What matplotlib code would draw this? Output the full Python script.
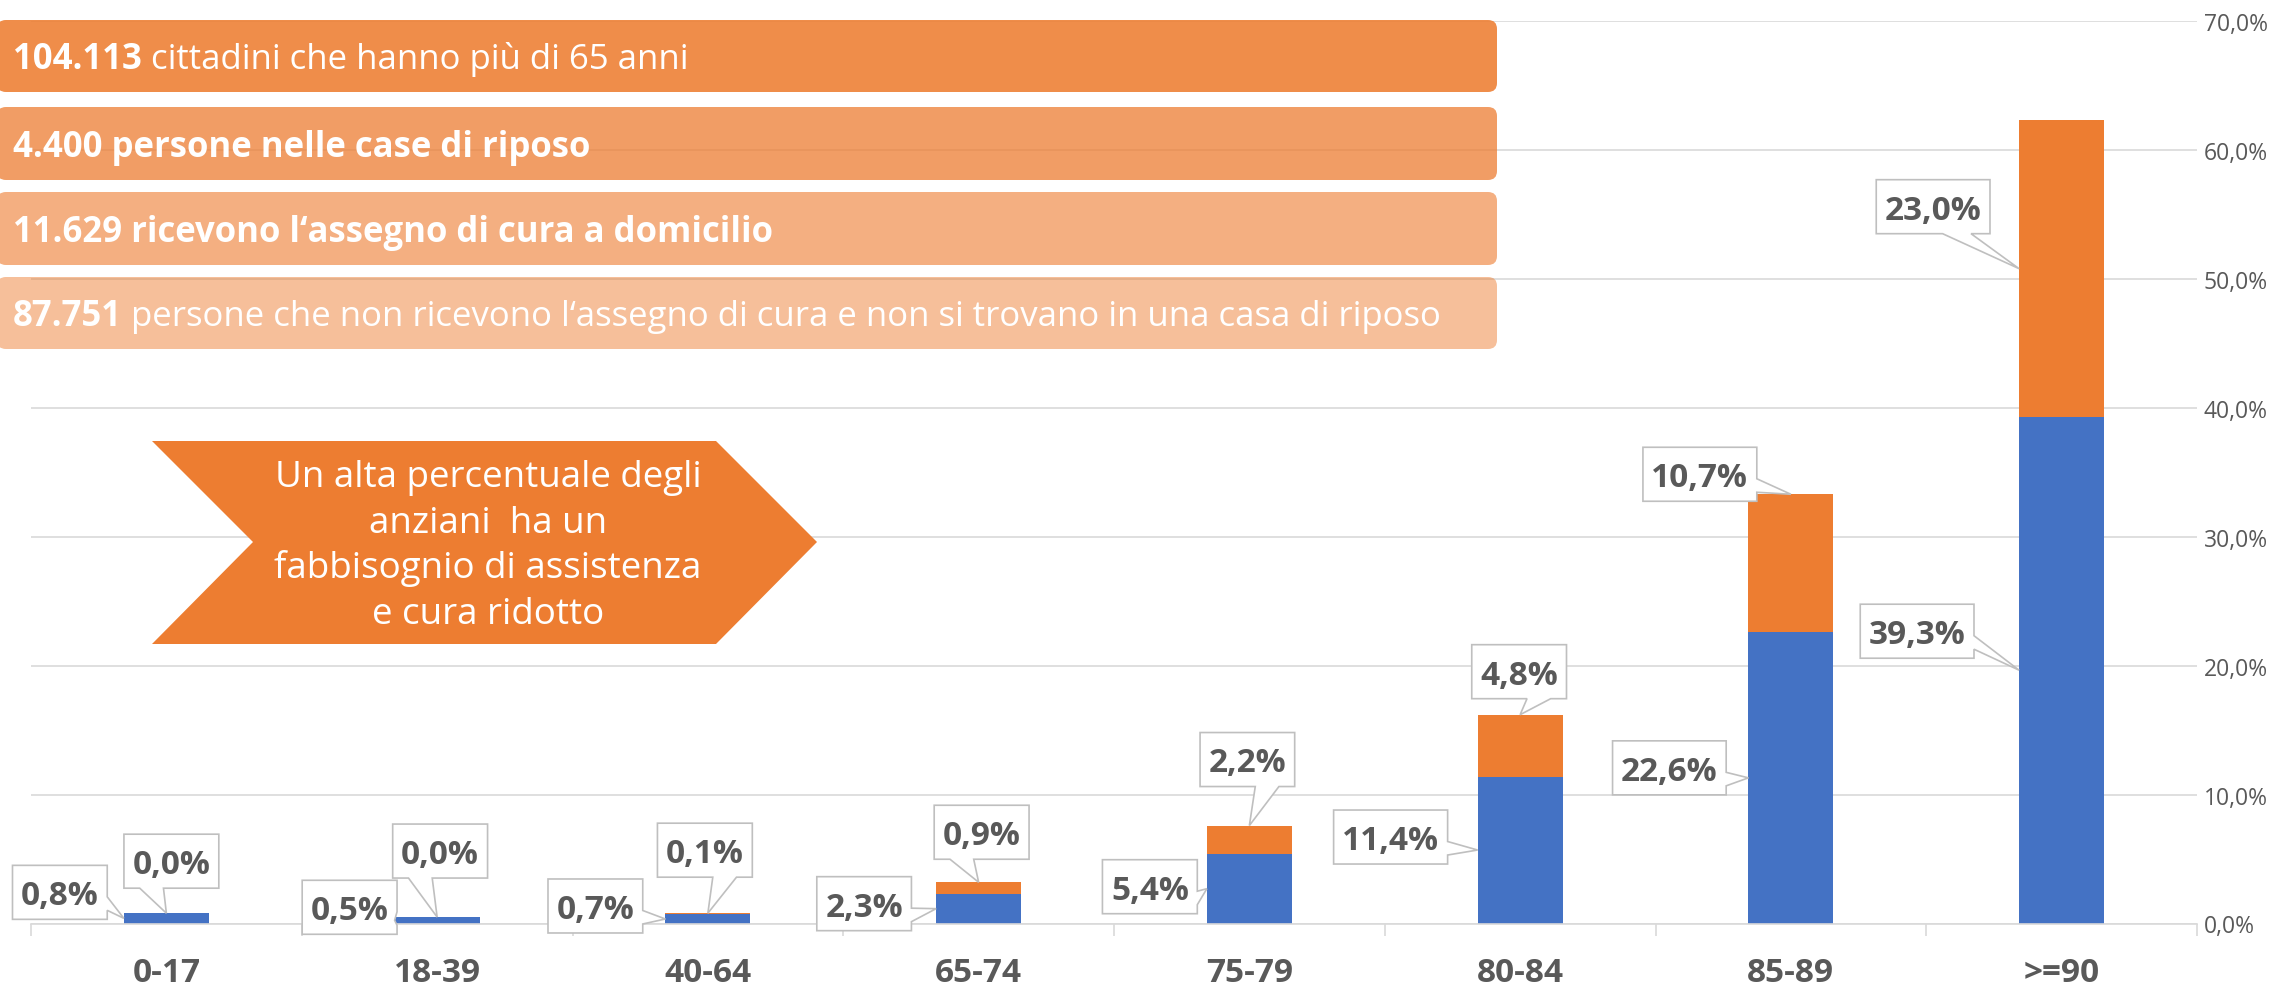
import numpy as np
import matplotlib
matplotlib.use("Agg")
import matplotlib.pyplot as plt
from matplotlib.patches import Polygon, FancyBboxPatch
from matplotlib import transforms

plt.rcParams['font.family'] = ['Open Sans', 'DejaVu Sans']

# ---------------- data ----------------
categories = ['0-17', '18-39', '40-64', '65-74', '75-79', '80-84', '85-89', '>=90']
blue_values = [0.8, 0.5, 0.7, 2.3, 5.4, 11.4, 22.6, 39.3]
orange_values = [0.0, 0.0, 0.1, 0.9, 2.2, 4.8, 10.7, 23.0]
y_ticks = [0, 10, 20, 30, 40, 50, 60, 70]

banner_bold = ['104.113', '4.400 persone nelle case di riposo',
               '11.629 ricevono l\u2018assegno di cura a domicilio', '87.751']
banner_regular = [' cittadini che hanno più di 65 anni', '', '',
                  ' persone che non ricevono l\u2018assegno di cura e non si trovano in una casa di riposo']
arrow_lines = ['Un alta percentuale degli', 'anziani  ha un',
               'fabbisognio di assistenza', 'e cura ridotto']

# ---------------- layout (pixels) ----------------
W, H = 2287, 987
blue_label_offsets = [(-64, -26), (-45, -13), (-70, -13), (-72, -5),
                      (-57, -2), (-87, -13), (-79, -10), (-102, -39)]
orange_label_offsets = [(5, -52), (3, -66), (-3, -63), (3, -50),
                        (-2, -66), (-1, -43), (-91, -20), (-86, -62)]
orange_anchor = ['top'] * 7 + ['leftmid']
banner_rows = [(21, 93, 0.88), (108, 181, 0.75), (193, 266, 0.61), (278, 350, 0.49)]

BLUE = '#4472C4'
ORANGE = '#ED7D31'
GRID = '#D9D9D9'
TXT = '#595959'

fig = plt.figure(figsize=(W / 100, H / 100), dpi=100)
y0_px, y70_px = 924.5, 22.2
ax = fig.add_axes([31 / W, 1 - y0_px / H, (2197 - 31) / W, (y0_px - y70_px) / H])

x = np.arange(len(categories))
bw = 0.314
ax.bar(x, blue_values, bw, color=BLUE, zorder=2)
ax.bar(x, orange_values, bw, bottom=blue_values, color=ORANGE, zorder=2)
ax.set_xlim(-0.5, len(categories) - 0.5)
ax.set_ylim(0, 70)
ax.set_yticks(y_ticks)
ax.set_yticklabels([f"{v:.1f}%".replace('.', ',') for v in y_ticks])
ax.yaxis.tick_right()
ax.tick_params(axis='y', length=0, pad=5, labelsize=16.5, labelcolor=TXT)
ax.grid(axis='y', color=GRID, lw=1.2, zorder=0)
ax.set_axisbelow(True)
for s in ['top', 'left', 'right']:
    ax.spines[s].set_visible(False)
ax.spines['bottom'].set_color(GRID)
ax.spines['bottom'].set_linewidth(1.2)
ax.set_xticks(x)
ax.set_xticklabels([])
ax.tick_params(axis='x', which='major', length=0)
ax.set_xticks(np.arange(-0.5, len(categories), 1), minor=True)
ax.tick_params(axis='x', which='minor', length=8.6, color=GRID, width=1.2)

FS = 24
cap = 0.714 * FS * 100 / 72
BFS = 25
bcap = 0.714 * BFS * 100 / 72

blend = transforms.blended_transform_factory(ax.transData, fig.transFigure)
for i, c in enumerate(categories):
    ax.text(i, 1 - 982 / H, c, transform=blend, ha='center', va='baseline',
            fontsize=FS, fontweight='bold', color=TXT, clip_on=False)

# overlay axes in pixel coordinates (y down)
ov = fig.add_axes([0, 0, 1, 1], zorder=5)
ov.set_xlim(0, W)
ov.set_ylim(H, 0)
ov.axis('off')
ov.patch.set_alpha(0)

fig.canvas.draw()
renderer = fig.canvas.get_renderer()


def to_px(xd, yd):
    d = ax.transData.transform((xd, yd))
    return ov.transData.inverted().transform(d)


# banners
for k, (top, bot, alpha) in enumerate(banner_rows):
    ov.add_patch(FancyBboxPatch((-3, top), 1500, bot - top,
                                boxstyle='round,pad=0,rounding_size=9',
                                fc=ORANGE, ec='none', alpha=alpha))
    base = (top + bot) / 2 + bcap / 2
    t1 = ov.text(13, base, banner_bold[k], ha='left', va='baseline', fontsize=BFS,
                 fontweight='bold', color='white')
    if banner_regular[k]:
        bb = t1.get_window_extent(renderer)
        ov.text(13 + bb.width, base, banner_regular[k], ha='left', va='baseline',
                fontsize=BFS, color='white')

# chevron
chev = [(152, 442), (716, 442), (817, 543), (716, 645), (152, 645), (253, 543)]
ov.add_patch(Polygon(chev, closed=True, fc=ORANGE, ec='none'))
AFS = 26.5
acap = 0.714 * AFS * 100 / 72
for j, line in enumerate(arrow_lines):
    cy = 474 + 45.5 * j
    ov.text(488, cy + acap / 2, line, ha='center', va='baseline', fontsize=AFS,
            color='white')


def callout(tip, offset, label):
    px, py = tip
    t = ov.text(0, 0, label, ha='center', va='baseline', fontsize=FS,
                fontweight='bold', color=TXT, zorder=4)
    tw = t.get_window_extent(renderer).width
    w, h = tw + 17, 54
    cx, cy = px + offset[0], py + offset[1]
    t.set_position((cx, cy + cap / 2))
    l, r, tp, b = cx - w / 2, cx + w / 2, cy - h / 2, cy + h / 2
    dx, dy = px - cx, py - cy
    dq = dx * h / w
    dz = abs(dy) - abs(dq)
    xg1, xg2 = (7, 10) if dx > 0 else (2, 5)
    yg1, yg2 = (7, 10) if dy > 0 else (2, 5)
    x1, x2 = l + w * xg1 / 12, l + w * xg2 / 12
    y1, y2 = tp + h * yg1 / 12, tp + h * yg2 / 12
    pts = [(l, tp)]
    if dz > 0 and dy < 0:
        pts += [(x1, tp), (px, py), (x2, tp)]
    pts += [(r, tp)]
    if dz <= 0 and dx > 0:
        pts += [(r, y1), (px, py), (r, y2)]
    pts += [(r, b)]
    if dz > 0 and dy > 0:
        pts += [(x2, b), (px, py), (x1, b)]
    pts += [(l, b)]
    if dz <= 0 and dx < 0:
        pts += [(l, y2), (px, py), (l, y1)]
    ov.add_patch(Polygon(pts, closed=True, fc='white', ec='#BFBFBF', lw=1.2,
                         joinstyle='miter', zorder=3))


fmt = lambda v: f"{v:.1f}%".replace('.', ',')
for i in range(len(categories)):
    b, o = blue_values[i], orange_values[i]
    tip_b = to_px(i - bw / 2, b / 2)
    callout(tip_b, blue_label_offsets[i], fmt(b))
    if orange_anchor[i] == 'top':
        tip_o = to_px(i, b + o)
    else:
        tip_o = to_px(i - bw / 2, b + o / 2)
    callout(tip_o, orange_label_offsets[i], fmt(o))

fig.savefig('out.png', dpi=100)
